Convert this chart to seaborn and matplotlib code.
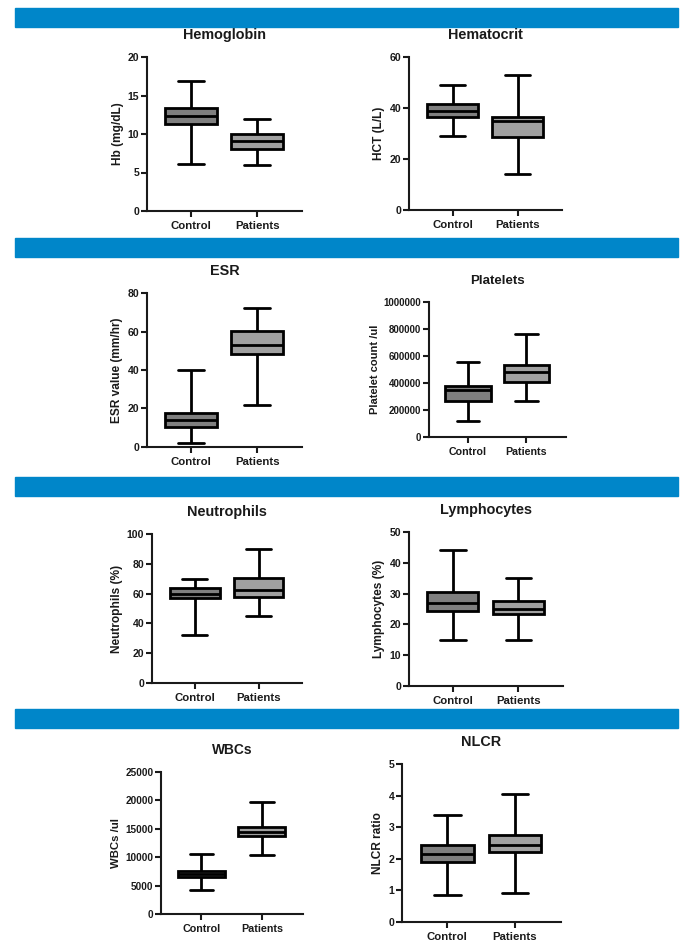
import pandas as pd
import matplotlib
matplotlib.use("Agg")
import matplotlib.pyplot as plt
import seaborn as sns
from matplotlib.patches import Rectangle

# ==========================================
# DATA (min, Q1, median, Q3, max)
# ==========================================
groups = ["Control", "Patients"]

hb_control = [6.1, 11.3, 12.4, 13.4, 16.9]
hb_patients = [6.0, 8.0, 9.1, 10.0, 12.0]

hct_control = [29, 36.5, 39, 41.5, 49]
hct_patients = [14, 28.5, 35, 36.5, 53]

esr_control = [2, 10.5, 14, 17.5, 40]
esr_patients = [22, 48.5, 53, 60.5, 72]

plt_control = [120000, 265000, 345000, 375000, 555000]
plt_patients = [270000, 410000, 480000, 535000, 765000]

neu_control = [32, 57, 60, 63.5, 70]
neu_patients = [45, 58, 62.5, 70.5, 90]

lym_control = [15, 24.5, 27, 30.5, 44]
lym_patients = [15, 23.5, 25, 27.5, 35]

wbc_control = [4300, 6600, 7000, 7500, 10500]
wbc_patients = [10300, 13800, 14500, 15400, 19800]

nlcr_control = [0.85, 1.9, 2.15, 2.45, 3.4]
nlcr_patients = [0.93, 2.2, 2.45, 2.75, 4.05]

titles = ["Hemoglobin", "Hematocrit", "ESR", "Platelets",
          "Neutrophils", "Lymphocytes", "WBCs", "NLCR"]
ylabels = ["Hb (mg/dL)", "HCT (L/L)", "ESR value (mm/hr)", "Platelet count /ul",
           "Neutrophils (%)", "Lymphocytes (%)", "WBCs /ul", "NLCR ratio"]
yticks = [[0, 5, 10, 15, 20], [0, 20, 40, 60], [0, 20, 40, 60, 80],
          [0, 200000, 400000, 600000, 800000, 1000000],
          [0, 20, 40, 60, 80, 100], [0, 10, 20, 30, 40, 50],
          [0, 5000, 10000, 15000, 20000, 25000], [0, 1, 2, 3, 4, 5]]

series = [(hb_control, hb_patients), (hct_control, hct_patients),
          (esr_control, esr_patients), (plt_control, plt_patients),
          (neu_control, neu_patients), (lym_control, lym_patients),
          (wbc_control, wbc_patients), (nlcr_control, nlcr_patients)]

# ==========================================
# LAYOUT (pixel boxes: left, top, right, bottom)
# ==========================================
W, H = 681, 941
boxes = [(147, 57, 302, 211), (409, 57, 562, 210),
         (147, 293, 302, 447), (429, 302, 566, 437),
         (152, 534, 302, 683), (409, 532, 563, 686),
         (161, 772, 303, 914), (402, 764, 561, 922)]
scales = [1.0, 1.0, 1.0, 0.93, 1.0, 1.0, 0.95, 1.0]
bands = [(8, 27), (238, 257), (477, 496), (709, 728)]

sns.set_style("ticks")
plt.rcParams['font.family'] = ['Liberation Sans', 'DejaVu Sans']

fig = plt.figure(figsize=(W / 100, H / 100), dpi=100)

for top, bot in bands:
    fig.patches.append(Rectangle((15 / W, 1 - bot / H), (678 - 15) / W, (bot - top) / H,
                                 transform=fig.transFigure, color="#0086c9", zorder=0))

ink = "#1a1a1a"
for i, (ctrl, pat) in enumerate(series):
    l, t, r, b = boxes[i]
    ax = fig.add_axes([l / W, 1 - b / H, (r - l) / W, (b - t) / H])
    df = pd.DataFrame({"group": [groups[0]] * len(ctrl) + [groups[1]] * len(pat),
                       "value": ctrl + pat})
    sns.boxplot(data=df, x="group", y="value", hue="group", order=groups,
                palette=["#7f7f7f", "#a0a0a0"], whis=(0, 100), width=0.78,
                linewidth=2.0, linecolor="black", legend=False, ax=ax)
    s = scales[i]
    ax.set_xlim(-0.67, 1.68)
    ax.set_ylim(yticks[i][0], yticks[i][-1])
    ax.set_yticks(yticks[i])
    ax.set_yticklabels([str(v) for v in yticks[i]])
    ax.set_xlabel("")
    ax.set_ylabel(ylabels[i], fontsize=8.6 * s, fontweight="bold", color=ink, labelpad=3)
    ax.set_title(titles[i], fontsize=10.4 * s, fontweight="bold", color=ink, pad=13)
    sns.despine(ax=ax)
    for side in ["left", "bottom"]:
        ax.spines[side].set_linewidth(1.5)
        ax.spines[side].set_color(ink)
    ax.tick_params(axis="y", labelsize=7.6 * s, length=4, width=1.5, color=ink,
                   labelcolor=ink, pad=1.5)
    ax.tick_params(axis="x", labelsize=8.2 * s, length=4, width=1.5, color=ink,
                   labelcolor=ink, pad=3)
    for lab in ax.get_xticklabels() + ax.get_yticklabels():
        lab.set_fontweight("bold")

fig.savefig("out.png", dpi=100)
